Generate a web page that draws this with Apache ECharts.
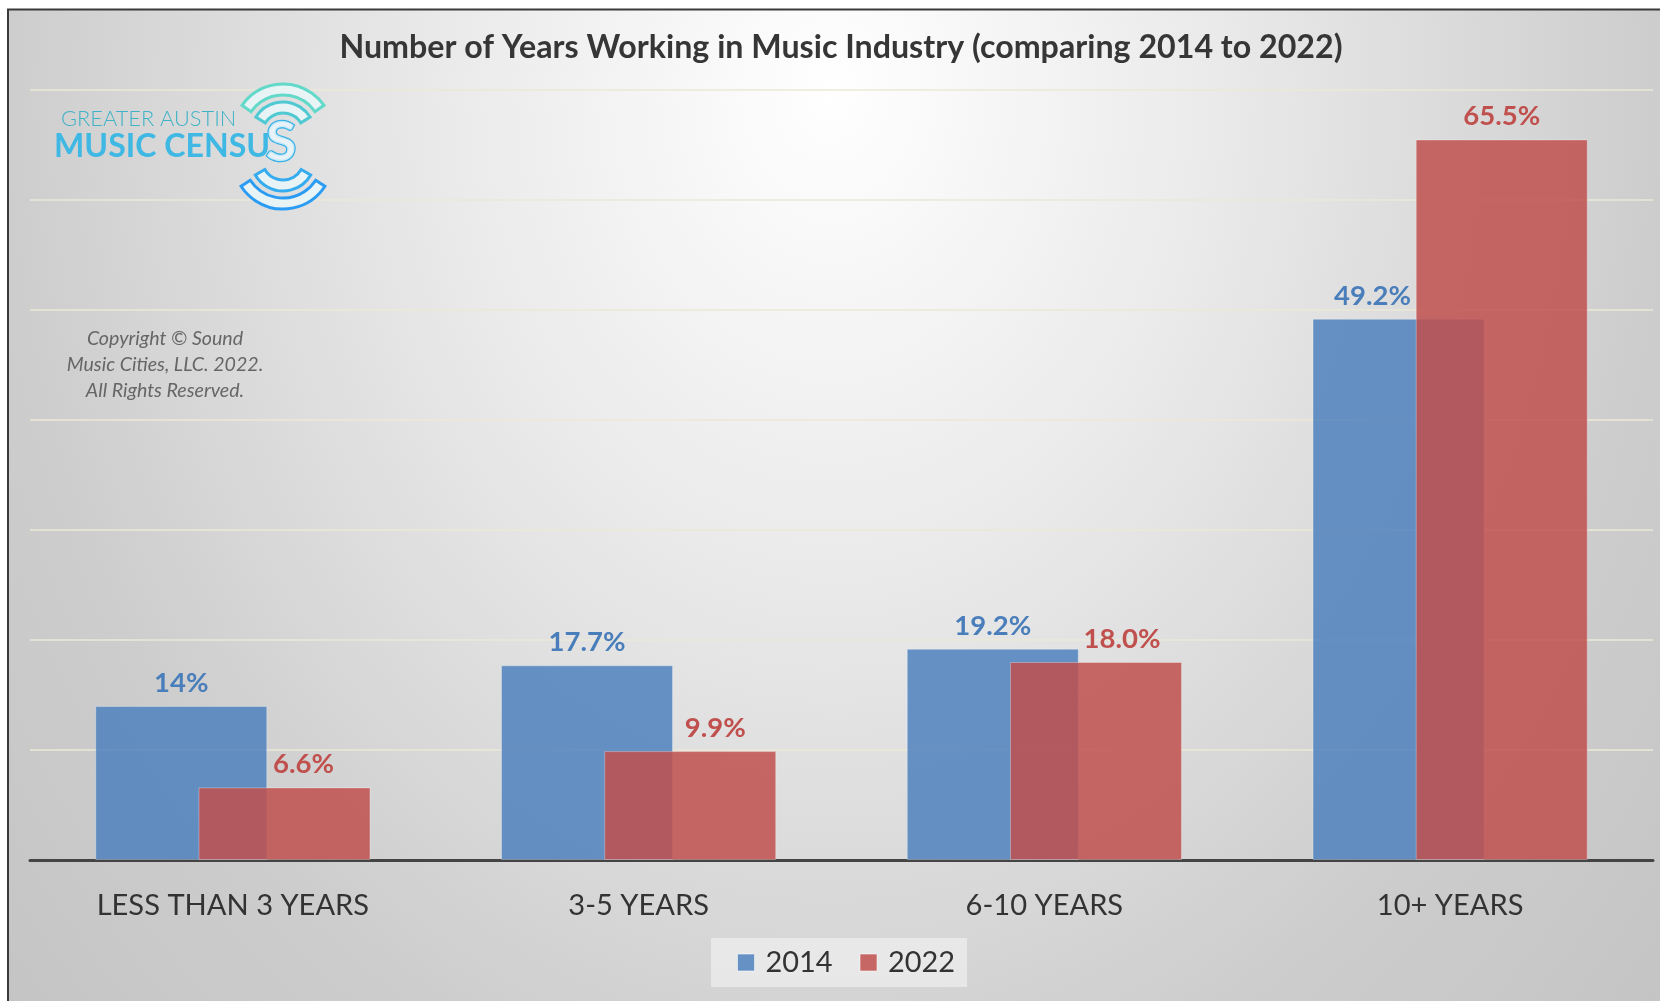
<!DOCTYPE html>
<html>
<head>
<meta charset="utf-8">
<script src="https://cdn.jsdelivr.net/npm/echarts@6/dist/echarts.min.js"></script>
<style>
  html, body { margin: 0; padding: 0; background: #ffffff; }
  #chart { width: 1660px; height: 1001px; }
</style>
</head>
<body>
<div id="chart"></div>
<script>
// ---- data ----
const categories = ['LESS THAN 3 YEARS', '3-5 YEARS', '6-10 YEARS', '10+ YEARS'];
const seriesNames = ['2014', '2022'];
const values2014 = [14, 17.7, 19.2, 49.2];
const values2022 = [6.6, 9.9, 18.0, 65.5];
// decimal places printed in each value label
const decimals2014 = [0, 1, 1, 1];
const decimals2022 = [1, 1, 1, 1];
const axisMin = 0, axisMax = 70, axisStep = 10;

const titleText = 'Number of Years Working in Music Industry (comparing 2014 to 2022)';
const noteText = 'Copyright \u00A9 Sound\nMusic Cities, LLC. 2022.\nAll Rights Reserved.';

// horizontal nudges (px) for value labels that would otherwise crowd a neighbour
const labelShift2014 = [0, 0, 0, -26];
const labelShift2022 = [19, 25, 26, 0];

// ---- typography helpers ----
const FAMILY = 'Lato, "Noto Sans", sans-serif';
const measure = document.createElement('canvas').getContext('2d');
function fit(text, width, weight = 'normal', style = 'normal') {
  measure.font = `${style} ${weight} 100px ${FAMILY}`;
  return Math.round(1000 * width / measure.measureText(text).width) / 10;
}
const titleSize = fit(titleText, 1002, 'bold');
const valueSize = fit('65.5%', 77, 'bold');
const catSize = fit(categories[0], 273);
const legendSize = fit(seriesNames[0], 67);
const noteSize = fit('Music Cities, LLC. 2022.', 197, 'normal', 'italic');
const logoTopSize = fit('GREATER AUSTIN', 175, '300');
const logoMainSize = fit('MUSIC CENSU', 216, 'bold');

const BLUE = 'rgba(79,129,189,0.85)';
const RED = 'rgba(192,80,77,0.85)';

function buildData(values, shifts) {
  return values.map((v, i) => ({ value: v, label: { offset: [shifts[i], 0] } }));
}

// ---- logo pieces ----
const deg = Math.PI / 180;
function band(cx, cy, r0, r, a0, a1, color) {
  return {
    type: 'sector', silent: true, z: 5,
    shape: { cx, cy, r0, r, startAngle: a0 * deg, endAngle: a1 * deg, clockwise: true },
    style: { fill: 'rgba(235,250,252,0.75)', stroke: color, lineWidth: 3 }
  };
}
const logo = [
  band(283, 134, 39, 50, -145, -35, '#62d9c9'),
  band(283, 134, 21, 32, -148, -32, '#4fcad3'),
  band(283, 159, 21, 32, 30, 150, '#34acef'),
  band(283, 159, 39, 50, 33, 147, '#2a9cf4'),
  {
    type: 'text', silent: true, z: 5, x: 61, y: 127 - 0.387 * logoTopSize,
    style: { text: 'GREATER AUSTIN', fontFamily: FAMILY, fontWeight: 300, fontSize: logoTopSize,
      fill: '#3fb3c6', align: 'left', verticalAlign: 'middle' }
  },
  {
    type: 'text', silent: true, z: 5, x: 54, y: 159.5 - 0.387 * logoMainSize,
    style: { text: 'MUSIC CENSU', fontFamily: FAMILY, fontWeight: 'bold', fontSize: logoMainSize,
      fill: '#40b8e4', align: 'left', verticalAlign: 'middle' }
  },
  {
    type: 'text', silent: true, z: 6, x: 281, y: 143,
    style: { text: 'S', fontFamily: FAMILY, fontWeight: 'bold', fontSize: 56,
      fill: 'rgba(235,248,252,0.8)', stroke: '#3bb2e6', lineWidth: 2.6,
      align: 'center', verticalAlign: 'middle' }
  }
];

// ---- backdrop: soft elliptical light from top centre, framed panel ----
const SY = 1.25;
const backdrop = [
  {
    type: 'rect', silent: true, z: -10, x: 0, y: 0, scaleY: SY,
    shape: { x: 8, y: 9 / SY, width: 1660, height: 1001 / SY },
    style: {
      fill: {
        type: 'radial', global: true, x: 830, y: 90 / SY, r: 1150,
        colorStops: [
          { offset: 0, color: '#ffffff' },
          { offset: 0.35, color: '#e9e9e9' },
          { offset: 0.72, color: '#cdcdcd' },
          { offset: 1, color: '#c3c3c3' }
        ]
      }
    }
  },
  {
    type: 'rect', silent: true, z: 10,
    shape: { x: 8, y: 9.5, width: 1670, height: 1010 },
    style: { fill: 'none', stroke: '#3a3a3a', lineWidth: 2 }
  }
];

const texts = [
  {
    type: 'text', silent: true, z: 5, x: 841, y: 60.5 - 0.387 * titleSize,
    style: { text: titleText, fontFamily: FAMILY, fontWeight: 'bold', fontSize: titleSize,
      fill: '#363636', align: 'center', verticalAlign: 'middle' }
  },
  {
    type: 'text', silent: true, z: 5, x: 165, y: 325.5,
    style: { text: noteText, fontFamily: FAMILY, fontStyle: 'italic', fontSize: noteSize,
      lineHeight: 26, fill: '#666666', align: 'center', verticalAlign: 'top' }
  }
];

const chart = echarts.init(document.getElementById('chart'), null, { renderer: 'canvas' });
chart.setOption({
  animation: false,
  backgroundColor: '#ffffff',
  textStyle: { fontFamily: FAMILY },
  grid: { left: 30, right: 7, top: 90, bottom: 141 },
  legend: {
    data: seriesNames,
    left: 711, top: 938,
    padding: [10, 12, 10, 26],
    backgroundColor: 'rgba(240,240,240,0.7)',
    icon: 'rect', itemWidth: 17, itemHeight: 17, itemGap: 27,
    itemStyle: { borderColor: 'rgba(255,255,255,0.55)', borderWidth: 1 },
    textStyle: { fontFamily: FAMILY, fontSize: legendSize, color: '#333333', padding: [0, 0, 0, 6] },
    selectedMode: false
  },
  xAxis: {
    type: 'category',
    data: categories,
    axisLine: { lineStyle: { color: '#444444', width: 3 } },
    axisTick: { show: false },
    axisLabel: { fontFamily: FAMILY, fontSize: catSize, color: '#333333', margin: 31 }
  },
  yAxis: {
    type: 'value',
    min: axisMin, max: axisMax, interval: axisStep,
    axisLabel: { show: false },
    axisLine: { show: false },
    axisTick: { show: false },
    splitLine: { lineStyle: { color: '#ebe8d6', width: 1.5 } }
  },
  series: [
    {
      name: seriesNames[0], type: 'bar', barWidth: 172, barGap: '-40%',
      itemStyle: { color: BLUE, borderColor: 'rgba(255,255,255,0.3)', borderWidth: 1 },
      label: {
        show: true, position: 'top', distance: 9,
        fontFamily: FAMILY, fontWeight: 'bold', fontSize: valueSize, color: '#4a7ebb',
        formatter: p => p.value.toFixed(decimals2014[p.dataIndex]) + '%'
      },
      data: buildData(values2014, labelShift2014)
    },
    {
      name: seriesNames[1], type: 'bar', barWidth: 172, barGap: '-40%',
      itemStyle: { color: RED, borderColor: 'rgba(255,255,255,0.3)', borderWidth: 1 },
      label: {
        show: true, position: 'top', distance: 9,
        fontFamily: FAMILY, fontWeight: 'bold', fontSize: valueSize, color: '#c0504d',
        formatter: p => p.value.toFixed(decimals2022[p.dataIndex]) + '%'
      },
      data: buildData(values2022, labelShift2022)
    }
  ],
  graphic: { elements: backdrop.concat(logo, texts) }
});
</script>
</body>
</html>
